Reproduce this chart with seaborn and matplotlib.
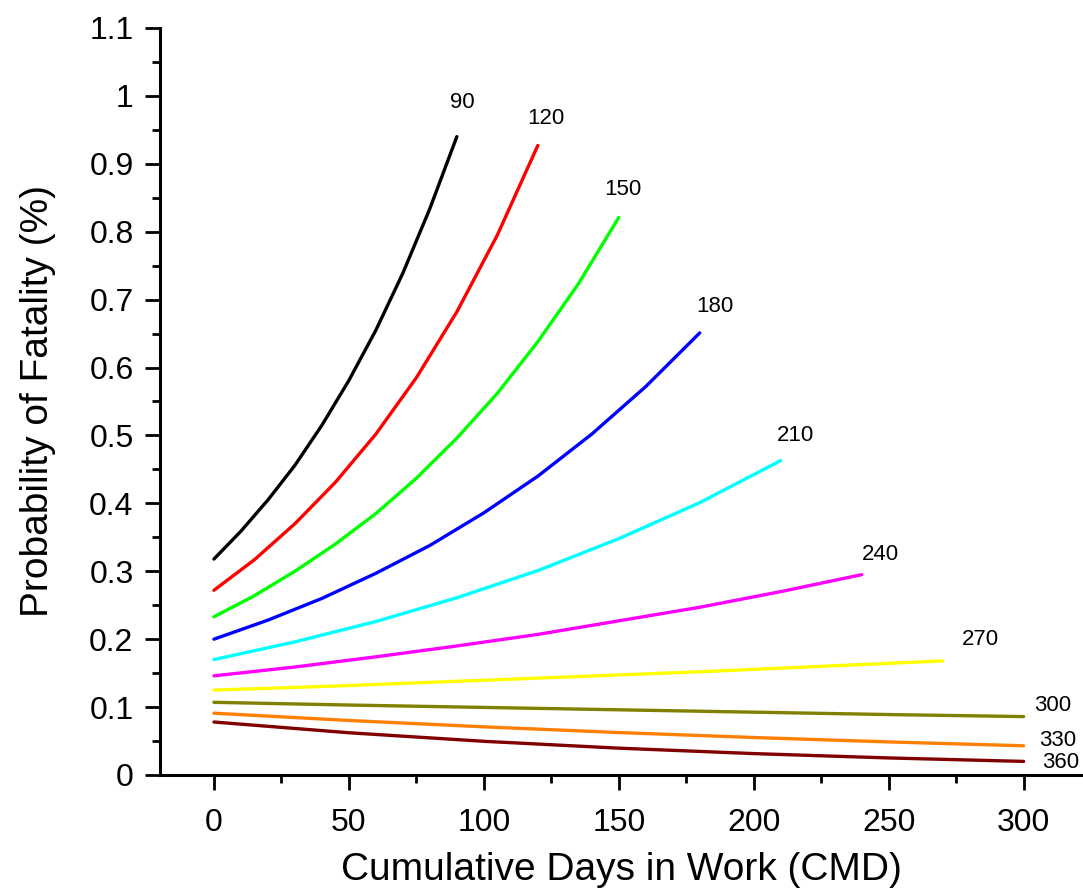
import matplotlib
matplotlib.use("Agg")
import matplotlib.pyplot as plt
import seaborn as sns
import pandas as pd
from matplotlib.ticker import MultipleLocator

# ---- data ----
labels = ["90", "120", "150", "180", "210", "240", "270", "300", "330", "360"]

x_90 = [0, 10, 20, 30, 40, 50, 60, 70, 80, 90]
y_90 = [0.318, 0.359, 0.405, 0.456, 0.515, 0.581, 0.655, 0.739, 0.834, 0.940]

x_120 = [0, 15, 30, 45, 60, 75, 90, 105, 120]
y_120 = [0.272, 0.317, 0.370, 0.431, 0.502, 0.585, 0.682, 0.795, 0.927]

x_150 = [0, 15, 30, 45, 60, 75, 90, 105, 120, 135, 150]
y_150 = [0.233, 0.264, 0.300, 0.340, 0.385, 0.437, 0.496, 0.562, 0.638, 0.723, 0.821]

x_180 = [0, 20, 40, 60, 80, 100, 120, 140, 160, 180]
y_180 = [0.200, 0.228, 0.260, 0.297, 0.338, 0.386, 0.440, 0.502, 0.572, 0.651]

x_210 = [0, 30, 60, 90, 120, 150, 180, 210]
y_210 = [0.170, 0.196, 0.226, 0.261, 0.301, 0.348, 0.401, 0.463]

x_240 = [0, 30, 60, 90, 120, 150, 180, 210, 240]
y_240 = [0.146, 0.159, 0.174, 0.190, 0.207, 0.227, 0.247, 0.270, 0.295]

x_270 = [0, 45, 90, 135, 180, 225, 270]
y_270 = [0.125, 0.131, 0.138, 0.145, 0.152, 0.160, 0.168]

x_300 = [0, 50, 100, 150, 200, 250, 300]
y_300 = [0.107, 0.103, 0.0995, 0.096, 0.0925, 0.089, 0.086]

x_330 = [0, 50, 100, 150, 200, 250, 300]
y_330 = [0.091, 0.0803, 0.0709, 0.0625, 0.0552, 0.0487, 0.043]

x_360 = [0, 50, 100, 150, 200, 250, 300]
y_360 = [0.078, 0.0622, 0.0496, 0.0395, 0.0315, 0.0251, 0.020]

xs = [x_90, x_120, x_150, x_180, x_210, x_240, x_270, x_300, x_330, x_360]
ys = [y_90, y_120, y_150, y_180, y_210, y_240, y_270, y_300, y_330, y_360]

colors = ["#000000", "#FF0000", "#00FF00", "#0000FF", "#00FFFF",
          "#FF00FF", "#FFFF00", "#808000", "#FF8000", "#800000"]

# label anchor positions (data coordinates, text centres)
label_x = [92, 123, 151.5, 185.5, 215.5, 247, 284, 310.7, 312.6, 313.7]
label_y = [0.99, 0.966, 0.862, 0.69, 0.50, 0.324, 0.199, 0.103, 0.0515, 0.019]

x_ticks = [0, 50, 100, 150, 200, 250, 300]
y_ticks = [0, 0.1, 0.2, 0.3, 0.4, 0.5, 0.6, 0.7, 0.8, 0.9, 1.0, 1.1]
y_tick_labels = ["0", "0.1", "0.2", "0.3", "0.4", "0.5", "0.6", "0.7", "0.8", "0.9", "1", "1.1"]

# ---- build long table ----
rows = []
for lab, xx, yy in zip(labels, xs, ys):
    for a, b in zip(xx, yy):
        rows.append({"CMD": a, "P": b, "series": lab})
df = pd.DataFrame(rows)

sns.set_theme(style="ticks")
plt.rcParams["font.family"] = ["Liberation Sans", "DejaVu Sans"]
plt.rcParams["text.color"] = "black"
plt.rcParams["axes.labelcolor"] = "black"
plt.rcParams["xtick.color"] = "black"
plt.rcParams["ytick.color"] = "black"

fig = plt.figure(figsize=(10.83, 8.91), dpi=100)
ax = fig.add_axes([0.1477, 0.1302, 0.8523, 0.8384])

sns.lineplot(data=df, x="CMD", y="P", hue="series", hue_order=labels,
             palette=dict(zip(labels, colors)), linewidth=2.4, legend=False,
             ax=ax, sort=True, estimator=None)

for lab, lx, ly in zip(labels, label_x, label_y):
    ax.text(lx, ly, lab, fontsize=16, color="black", ha="center", va="center")

ax.set_xlim(-20, 322)
ax.set_ylim(0, 1.1)
ax.set_xticks(x_ticks)
ax.set_xticklabels([str(t) for t in x_ticks])
ax.set_yticks(y_ticks)
ax.set_yticklabels(y_tick_labels)
ax.xaxis.set_minor_locator(MultipleLocator(25))
ax.yaxis.set_minor_locator(MultipleLocator(0.05))

for side in ["top", "right"]:
    ax.spines[side].set_visible(False)
for side in ["left", "bottom"]:
    ax.spines[side].set_linewidth(2.2)
    ax.spines[side].set_color("black")

ax.tick_params(axis="both", which="major", direction="out", length=11,
               width=2.0, colors="black", labelsize=23)
ax.tick_params(axis="x", which="major", pad=13)
ax.tick_params(axis="y", which="major", pad=8)
ax.tick_params(axis="both", which="minor", direction="out", length=5.5,
               width=2.0, colors="black")

ax.set_xlabel("Cumulative Days in Work (CMD)", fontsize=28, labelpad=10, color="black")
ax.set_ylabel("Probability of Fatality (%)", fontsize=28, labelpad=24, color="black")

fig.savefig("out.png", dpi=100)
